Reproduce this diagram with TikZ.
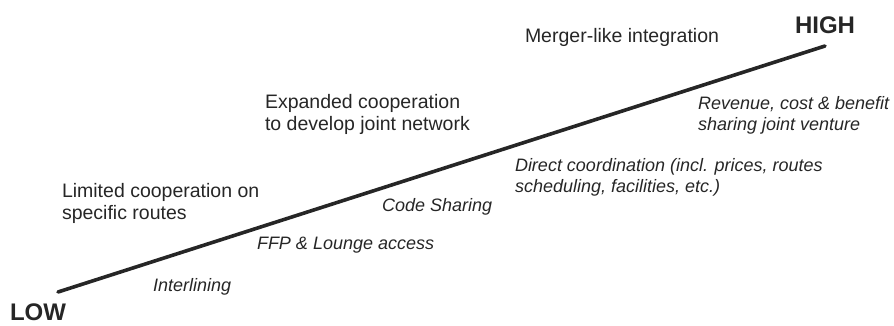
\documentclass[tikz,border=0pt]{standalone}
\usepackage{fontspec}
\setmainfont{Liberation Sans}
\definecolor{ink}{HTML}{262626}
\begin{document}
\begin{tikzpicture}[x=1pt,y=-1pt,
  every node/.style={inner sep=0pt,outer sep=0pt,text=ink},
  endlabel/.style={font=\fontsize{24}{26}\selectfont\bfseries},
  phase/.style={font=\fontsize{19.5}{22}\selectfont,align=left,anchor=west},
  mech/.style={font=\fontsize{18}{21}\selectfont\itshape,align=left,anchor=west}]
\useasboundingbox (0,0) rectangle (894,326);
\coordinate (a) at (58,292);
\coordinate (b) at (825,46);
\draw[line width=3.6pt,color=ink,line cap=round] (a) -- (b);
\node[endlabel,anchor=west] (low) at (10,312) {LOW};
\node[endlabel] (high) at (825,25) {HIGH};
\node[phase] (merger) at (525,37) {Merger-like integration};
\node[phase] (expanded) at (265,114) {Expanded cooperation\\to develop joint network};
\node[phase] (limited) at (62,203) {Limited cooperation on\\specific routes};
\node[mech] (revenue) at (698,115) {Revenue, cost \& benefit\\sharing joint venture};
\node[mech] (direct) at (515,177) {Direct coordination (incl. prices, routes\\scheduling, facilities, etc.)};
\node[mech] (code) at (382,207) {Code Sharing};
\node[mech] (ffp) at (257,245) {FFP \& Lounge access};
\node[mech] (inter) at (153,287) {Interlining};
\end{tikzpicture}
\end{document}
